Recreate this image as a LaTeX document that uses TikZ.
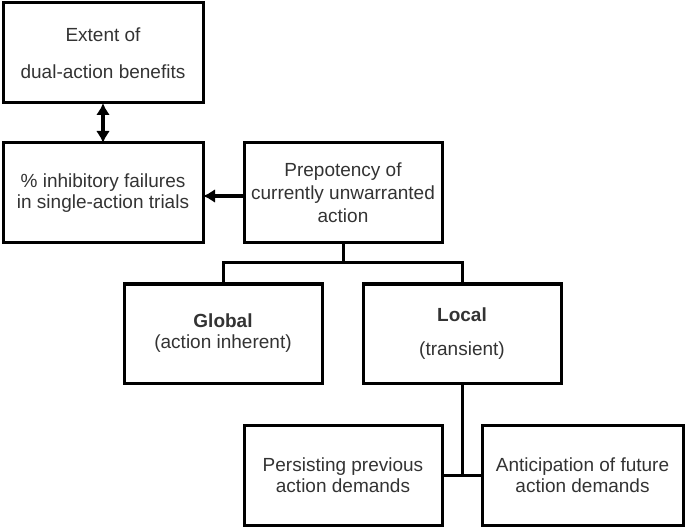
\documentclass[tikz,border=0pt]{standalone}
\usepackage{fontspec}
\setmainfont{Liberation Sans}
\usepackage[]{xcolor}
\usetikzlibrary{arrows.meta}
\usetikzlibrary{positioning}
\colorlet{mytext}{black!80}
\tikzset{
  >=latex,
  box/.style={draw=black,line width=3pt,rectangle,text=mytext,align=center,
    font=\fontsize{19}{21}\selectfont,inner sep=2,outer sep=0},
  link/.style={line width=3pt},
  link arrow/.style={line width=3.2pt,-{Latex[length=12,width=14]}},
  link both/.style={line width=3.2pt,{Latex[length=12,width=14]}-{Latex[length=12,width=14]}}
}
\newcommand{\boxnd}[5][]{\node[box,minimum width=#4,minimum height=#5,#1] (#3) at (#2)}
\begin{document}
\begin{tikzpicture}[x=1pt,y=-1pt]
  \useasboundingbox (0,0) rectangle (685,529);
  \boxnd{103,53}{ext}{200}{100} {Extent of\\[16pt]dual-action benefits};
  \boxnd{103,193}{inh}{200}{100} {\% inhibitory failures\\in single-action trials};
  \boxnd{343,193}{pre}{198}{100} {Prepotency of\\[2pt]currently unwarranted\\[2pt]action};
  \boxnd{223,333.5}{glob}{198}{99} {\textbf{Global}\\(action inherent)};
  \boxnd{462,333.5}{loc}{198}{99} {\textbf{Local}\\[13pt](transient)};
  \boxnd{343,475}{pers}{198}{100} {Persisting previous\\action demands};
  \boxnd{582.5,475}{anti}{201}{100} {Anticipation of future\\action demands};
  \draw[link both] (ext.south) -- (inh.north);
  \draw[link arrow] ([yshift=-3]pre.west) -- ([yshift=-3]inh.east);
  \draw[link] (pre.south) -- ++(0,20) coordinate (split);
  \draw[link] (glob.north) |- (split) -| (loc.north);
  \draw[link] (pers.east) -- (anti.west);
  \draw[link] (loc.south) -- (loc.south |- pers.east) coordinate (join);
\end{tikzpicture}
\end{document}
